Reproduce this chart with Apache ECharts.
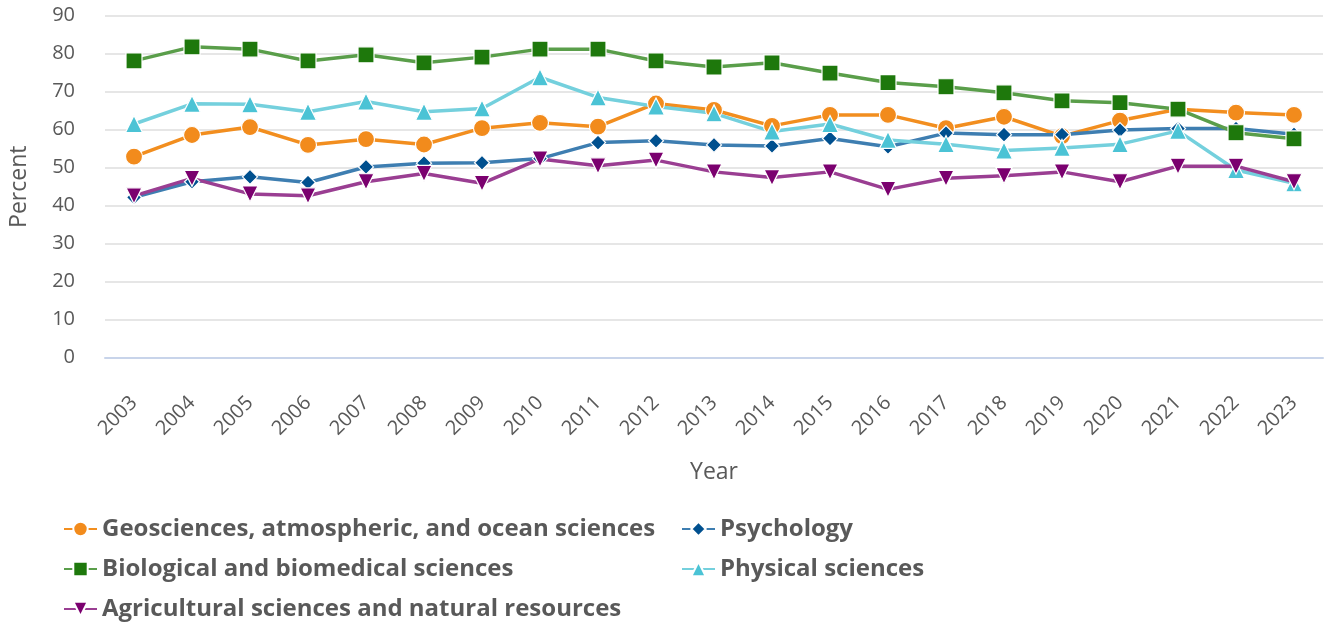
<!DOCTYPE html>
<html>
<head>
<meta charset="utf-8">
<title>Percent by field</title>
<script src="https://cdn.jsdelivr.net/npm/echarts@6/dist/echarts.min.js"></script>
<style>
  html, body { margin: 0; padding: 0; background: #fff; }
  #main { width: 1325px; height: 623px; }
</style>
</head>
<body>
<div id="main"></div>
<script>
// 数据
var years = ['2003','2004','2005','2006','2007','2008','2009','2010','2011','2012','2013',
             '2014','2015','2016','2017','2018','2019','2020','2021','2022','2023'];
var geoData   = [52.9, 58.6, 60.7, 56.0, 57.5, 56.1, 60.4, 61.8, 60.8, 66.9, 65.2, 61.0, 63.9, 63.9, 60.4, 63.4, 58.3, 62.4, 65.4, 64.5, 63.9];
var psychData = [42.2, 46.3, 47.6, 46.1, 50.2, 51.2, 51.3, 52.4, 56.6, 57.1, 56.0, 55.7, 57.7, 55.5, 59.1, 58.7, 58.7, 59.9, 60.3, 60.3, 58.8];
var bioData   = [78.1, 81.8, 81.2, 78.1, 79.7, 77.6, 79.1, 81.2, 81.2, 78.1, 76.5, 77.6, 74.9, 72.4, 71.3, 69.7, 67.6, 67.1, 65.4, 59.2, 57.6];
var physData  = [61.5, 66.8, 66.7, 64.7, 67.4, 64.7, 65.6, 73.8, 68.5, 66.1, 64.3, 59.5, 61.5, 57.3, 56.2, 54.5, 55.2, 56.2, 59.7, 49.4, 45.9];
var agriData  = [42.6, 47.2, 43.1, 42.6, 46.3, 48.5, 45.9, 52.3, 50.5, 52.0, 48.9, 47.4, 48.9, 44.3, 47.2, 47.9, 48.9, 46.3, 50.4, 50.4, 46.3];

var names = [
  'Geosciences, atmospheric, and ocean sciences',
  'Psychology',
  'Biological and biomedical sciences',
  'Physical sciences',
  'Agricultural sciences and natural resources'
];

var labelColor = '#595959';
var fontName = '"Open Sans", "DejaVu Sans", sans-serif';

function makeSeries(name, data, symbol, size, markColor, lineColor) {
  return {
    name: name,
    type: 'line',
    data: data,
    symbol: symbol,
    symbolSize: size,
    showAllSymbol: true,
    lineStyle: { color: lineColor, width: 3.5 },
    itemStyle: { color: markColor, borderColor: '#fff', borderWidth: 1.2 },
    emphasis: { disabled: true }
  };
}

// 图例 （两列）
function makeLegend(data, left) {
  return {
    data: data,
    orient: 'vertical',
    left: left, top: 510,
    height: 140,
    itemWidth: 33, itemHeight: 18, itemGap: 12,
    textStyle: { color: labelColor, fontSize: 24, fontWeight: 'bold', fontFamily: fontName, lineHeight: 28 }
  };
}

var myChart = echarts.init(document.getElementById('main'));
var option = {
  animation: false,
  textStyle: { fontFamily: fontName },
  grid: { left: 105, right: 2, top: 15.7, bottom: 265.3, containLabel: false },
  legend: [
    makeLegend([names[0], names[2], names[4]], 58),
    makeLegend([names[1], names[3]], 676)
  ],
  xAxis: {
    type: 'category',
    data: years,
    boundaryGap: true,
    name: 'Year',
    nameLocation: 'middle',
    nameGap: 103,
    nameTextStyle: { color: labelColor, fontSize: 23, fontFamily: fontName },
    axisLine: { lineStyle: { color: '#c8d4ea', width: 2 } },
    axisTick: { alignWithLabel: true, length: 18, lineStyle: { color: '#c8d4ea', width: 2 } },
    axisLabel: { rotate: 45, margin: 42, color: labelColor, fontSize: 20, fontFamily: fontName },
    splitLine: { show: false }
  },
  yAxis: {
    type: 'value',
    min: 0, max: 90, interval: 10,
    name: 'Percent',
    nameLocation: 'middle',
    nameGap: 74,
    nameTextStyle: { color: labelColor, fontSize: 23, fontFamily: fontName },
    axisLine: { show: false },
    axisTick: { show: false },
    axisLabel: { margin: 30, color: labelColor, fontSize: 20, fontFamily: fontName },
    splitLine: { lineStyle: { color: '#e6e6e6', width: 2 } }
  },
  series: [
    makeSeries(names[0], geoData, 'circle', 17, '#f28b1c', '#f28e1f'),
    makeSeries(names[1], psychData, 'diamond', 15, '#00508f', '#3e7eb1'),
    makeSeries(names[2], bioData, 'rect', 16, '#1e780c', '#5a9e4a'),
    makeSeries(names[3], physData, 'triangle', 17, '#4bc3d5', '#74d0dd'),
    makeSeries(names[4], agriData, 'path://M0,0 L10,0 L5,9 Z', 16, '#7b006f', '#9a3e92')
  ]
};
myChart.setOption(option);
</script>
</body>
</html>
